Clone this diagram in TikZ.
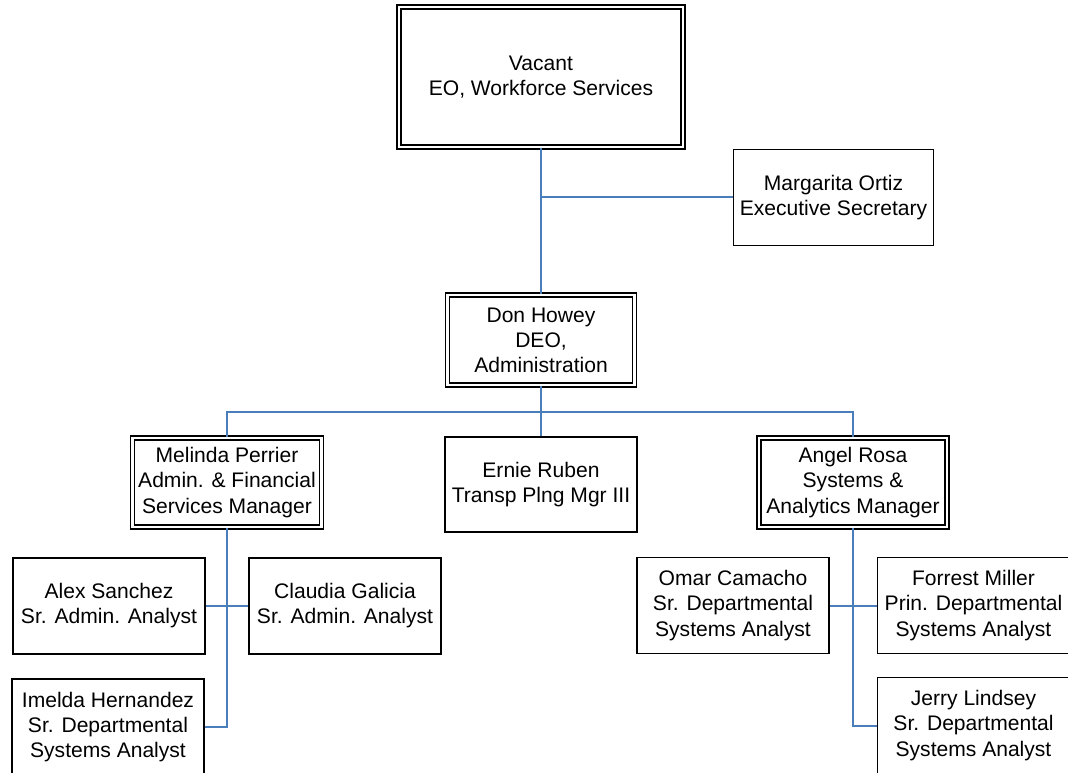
\documentclass[tikz,border=0pt]{standalone}
\usepackage{fontspec}
\setmainfont{Liberation Sans}
\definecolor{linkblue}{RGB}{74,126,187}
\tikzset{every picture/.style={line width=0.75pt}}
\tikzset{
  orgbox/.style={draw=black, line width=1.4pt, fill=white, align=center, inner sep=0pt,
                 font=\fontsize{15.8}{18.8}\selectfont},
  dblbox/.style={orgbox, line width=1.1pt, double=white, double distance=2pt},
  link/.style={draw=linkblue, line width=1.5pt},
}

\begin{document}
\begin{tikzpicture}[x=0.75pt,y=0.75pt,yscale=-1,xscale=1]
\clip (0,0) rectangle (1068,773); %set diagram size 1068 x 773

% Text Node
        \node [dblbox, minimum width=213pt, minimum height=105pt] (eo) at (541,77) {Vacant\\EO, Workforce Services};
% Text Node
        \node [orgbox, minimum width=150pt, minimum height=72pt] (sec) at (833.5,197.5) {Margarita Ortiz\\Executive Secretary};
% Text Node
        \node [dblbox, minimum width=140.25pt, minimum height=67.5pt] (deo) at (541,340) {Don Howey\\DEO,\\Administration};
% Text Node
        \node [dblbox, minimum width=141.75pt, minimum height=66.75pt] (adm) at (227,482.5) {Melinda Perrier\\Admin. \& Financial\\Services Manager};
% Text Node
        \node [orgbox, minimum width=144pt, minimum height=71.25pt] (tpm) at (541,484.5) {Ernie Ruben\\Transp Plng Mgr III};
% Text Node
        \node [dblbox, minimum width=141pt, minimum height=66.75pt] (sys) at (853,482.5) {Angel Rosa\\Systems \&\\Analytics Manager};
% Text Node
        \node [orgbox, minimum width=144pt, minimum height=72pt] (alex) at (109,606) {Alex Sanchez\\Sr. Admin. Analyst};
% Text Node
        \node [orgbox, minimum width=144pt, minimum height=72pt] (claudia) at (345,606) {Claudia Galicia\\Sr. Admin. Analyst};
% Text Node
        \node [orgbox, minimum width=144pt, minimum height=72pt] (imelda) at (108,727) {Imelda Hernandez\\Sr. Departmental\\Systems Analyst};
% Text Node
        \node [orgbox, minimum width=144pt, minimum height=72pt] (omar) at (733,605.5) {Omar Camacho\\Sr. Departmental\\Systems Analyst};
% Text Node
        \node [orgbox, minimum width=144pt, minimum height=72pt] (forrest) at (973.5,605.5) {Forrest Miller\\Prin. Departmental\\Systems Analyst};
% Text Node
        \node [orgbox, minimum width=144pt, minimum height=72pt] (jerry) at (973.5,725.5) {Jerry Lindsey\\Sr. Departmental\\Systems Analyst};

        \coordinate (bus) at (541,412);

% Connection
        \draw [link] (eo.south) -- (deo.north);
% Connection
        \draw [link] (sec.west) -- (sec.west -| eo.south);
% Connection
        \draw [link] (adm.north) -- (adm.north |- bus) -- (sys.north |- bus) -- (sys.north);
% Connection
        \draw [link] (deo.south) -- (tpm.north);
% Connection
        \draw [link] (alex.east) -- (claudia.west);
% Connection
        \draw [link] (adm.south) -- (adm.south |- imelda.east) -- (imelda.east);
% Connection
        \draw [link] (omar.east) -- (forrest.west);
% Connection
        \draw [link] (sys.south) -- (sys.south |- jerry.west) -- (jerry.west);

\end{tikzpicture}
\end{document}
